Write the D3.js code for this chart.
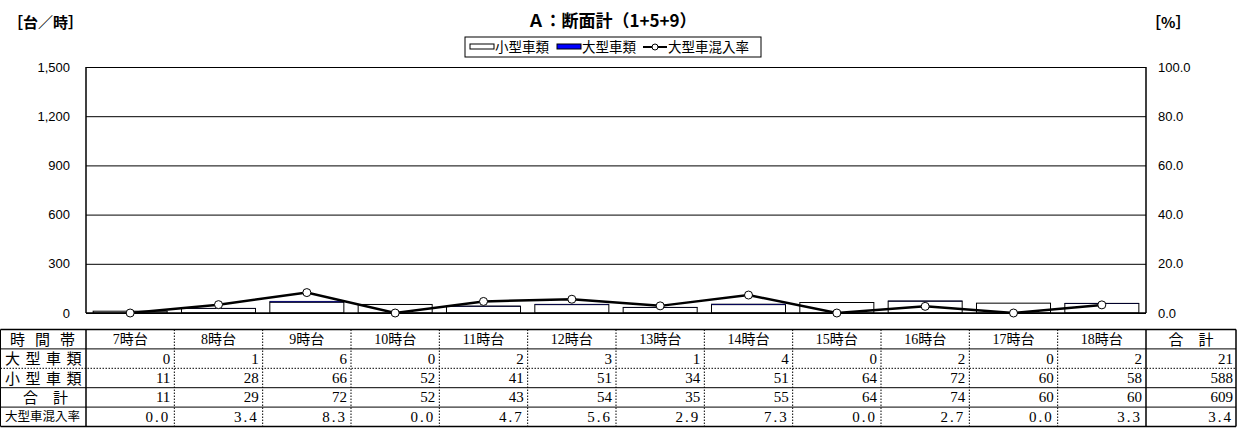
<!DOCTYPE html>
<html>
<head>
<meta charset="utf-8">
<script src="https://cdn.jsdelivr.net/npm/d3@7"></script>
<style>
  body { margin: 0; background: #fff; }
  svg { display: block; }
  .axis text { font-family: "Liberation Sans", Arial, sans-serif; font-size: 13px; fill: #000; }
  .cell { font-family: "Liberation Serif", "Noto Sans CJK JP", serif; fill: #000; }
  .jp { font-family: "Noto Sans CJK JP", sans-serif; fill: #000; }
</style>
</head>
<body>
<div id="chart"></div>
<script>
// data
var hours = ["7時台", "8時台", "9時台", "10時台", "11時台", "12時台", "13時台", "14時台", "15時台", "16時台", "17時台", "18時台"];
var largeVehicles = [0, 1, 6, 0, 2, 3, 1, 4, 0, 2, 0, 2];
var smallVehicles = [11, 28, 66, 52, 41, 51, 34, 51, 64, 72, 60, 58];
var totals = [11, 29, 72, 52, 43, 54, 35, 55, 64, 74, 60, 60];
var mixRates = [0.0, 3.4, 8.3, 0.0, 4.7, 5.6, 2.9, 7.3, 0.0, 2.7, 0.0, 3.3];
var grandTotals = [21, 588, 609, 3.4];   // 大型, 小型, 合計, 混入率
var leftTicks = [0, 300, 600, 900, 1200, 1500];
var rightTicks = [0, 20, 40, 60, 80, 100];
var rowLabels = ["時間帯", "大型車類", "小型車類", "合　計", "大型車混入率"];

var w = 1239, h = 439;
var plotLeft = 86, plotRight = 1146, plotTop = 67, plotBottom = 313;

var svg = d3.select("#chart").append("svg")
    .attr("width", w)
    .attr("height", h);

var xScale = d3.scaleBand()
    .domain(hours)
    .range([plotLeft, plotRight])
    .paddingInner(0.162)
    .paddingOuter(0.081);

var colScale = d3.scaleBand()
    .domain(hours)
    .range([plotLeft, plotRight])
    .padding(0);

var yScale = d3.scaleLinear().domain([0, 1500]).range([plotBottom, plotTop]);
var rScale = d3.scaleLinear().domain([0, 100]).range([plotBottom, plotTop]);

// unit labels and title
svg.append("text").attr("class", "jp")
    .attr("x", 8).attr("y", 28)
    .style("font-size", "15px").style("font-weight", "bold")
    .text("［台／時］");
svg.append("text").attr("class", "jp")
    .attr("x", 1146).attr("y", 28)
    .style("font-size", "15px").style("font-weight", "bold")
    .text("［%］");
svg.append("text").attr("class", "jp")
    .attr("x", 612).attr("y", 27)
    .attr("text-anchor", "middle")
    .style("font-size", "17px").style("font-weight", "bold")
    .text("Ａ：断面計（1+5+9）");

// left axis with grid
var yAxis = d3.axisLeft(yScale)
    .tickValues(leftTicks)
    .tickSize(-(plotRight - plotLeft))
    .tickPadding(16)
    .tickFormat(d3.format(","));
var gy = svg.append("g").attr("class", "axis")
    .attr("transform", "translate(" + plotLeft + ",0)")
    .call(yAxis);
gy.selectAll(".tick line").attr("stroke", "#000").attr("stroke-width", 1);
gy.select(".domain").remove();

var rAxis = d3.axisRight(rScale)
    .tickValues(rightTicks)
    .tickSize(0)
    .tickPadding(12)
    .tickFormat(d3.format(".1f"));
var gr = svg.append("g").attr("class", "axis")
    .attr("transform", "translate(" + plotRight + ",0)")
    .call(rAxis);
gr.select(".domain").remove();

// plot side borders
svg.append("line").attr("x1", plotLeft).attr("x2", plotLeft).attr("y1", plotTop).attr("y2", plotBottom)
    .attr("stroke", "#000").attr("stroke-width", 1.5);
svg.append("line").attr("x1", plotRight).attr("x2", plotRight).attr("y1", plotTop).attr("y2", plotBottom)
    .attr("stroke", "#000").attr("stroke-width", 1.5);

// stacked bars: small at bottom, large on top
svg.selectAll(".small").data(smallVehicles).enter().append("rect")
    .attr("class", "small")
    .attr("x", function(d, i) { return xScale(hours[i]); })
    .attr("y", function(d) { return yScale(d); })
    .attr("width", xScale.bandwidth())
    .attr("height", function(d) { return plotBottom - yScale(d); })
    .attr("fill", "#fff").attr("stroke", "#000").attr("stroke-width", 1);

svg.selectAll(".large").data(largeVehicles).enter().append("rect")
    .attr("class", "large")
    .attr("x", function(d, i) { return xScale(hours[i]); })
    .attr("y", function(d, i) { return yScale(smallVehicles[i] + d); })
    .attr("width", xScale.bandwidth())
    .attr("height", function(d) { return yScale(0) - yScale(d); })
    .attr("fill", "#0000ff").attr("stroke", "#000").attr("stroke-width", 0.5);

// baseline
svg.append("line").attr("x1", plotLeft).attr("x2", plotRight).attr("y1", plotBottom).attr("y2", plotBottom)
    .attr("stroke", "#000").attr("stroke-width", 1.5);

// mix rate line
var line = d3.line()
    .x(function(d, i) { return xScale(hours[i]) + xScale.bandwidth() / 2; })
    .y(function(d) { return rScale(d); });
svg.append("path").datum(mixRates)
    .attr("d", line)
    .attr("fill", "none").attr("stroke", "#000").attr("stroke-width", 2.5);
svg.selectAll(".dot").data(mixRates).enter().append("circle")
    .attr("class", "dot")
    .attr("cx", function(d, i) { return xScale(hours[i]) + xScale.bandwidth() / 2; })
    .attr("cy", function(d) { return rScale(d); })
    .attr("r", 4)
    .attr("fill", "#fff").attr("stroke", "#000").attr("stroke-width", 1);

// legend
var lg = svg.append("g").attr("transform", "translate(465,37)");
lg.append("rect").attr("x", 0).attr("y", 0).attr("width", 296).attr("height", 20)
    .attr("fill", "#fff").attr("stroke", "#000").attr("stroke-width", 1);
lg.append("rect").attr("x", 5).attr("y", 7).attr("width", 24).attr("height", 5)
    .attr("fill", "#fff").attr("stroke", "#000").attr("stroke-width", 1);
lg.append("text").attr("class", "jp").attr("x", 30).attr("y", 15).style("font-size", "13.5px").text("小型車類");
lg.append("rect").attr("x", 92).attr("y", 7).attr("width", 24).attr("height", 5)
    .attr("fill", "#0000ff").attr("stroke", "#000").attr("stroke-width", 1);
lg.append("text").attr("class", "jp").attr("x", 117).attr("y", 15).style("font-size", "13.5px").text("大型車類");
lg.append("line").attr("x1", 178).attr("x2", 202).attr("y1", 10).attr("y2", 10)
    .attr("stroke", "#000").attr("stroke-width", 2);
lg.append("circle").attr("cx", 190).attr("cy", 10).attr("r", 3)
    .attr("fill", "#fff").attr("stroke", "#000").attr("stroke-width", 1);
lg.append("text").attr("class", "jp").attr("x", 203).attr("y", 15).style("font-size", "13.5px").text("大型車混入率");

// table
var rowTop = 329.5, rowH = 19.4;
var tableLeft = 0.5, tableRight = 1236;
var rowsY = d3.range(6).map(function(i) { return rowTop + i * rowH; });

var tg = svg.append("g");
// horizontal lines
rowsY.forEach(function(y, i) {
    tg.append("line").attr("x1", tableLeft).attr("x2", tableRight).attr("y1", y).attr("y2", y)
        .attr("stroke", "#000")
        .attr("stroke-width", (i == 0 || i == 5) ? 1.5 : 1)
        .attr("stroke-dasharray", i == 2 ? "1.5,1.5" : null);
});
// vertical lines
tg.append("line").attr("x1", tableLeft).attr("x2", tableLeft).attr("y1", rowTop).attr("y2", rowsY[5])
    .attr("stroke", "#000").attr("stroke-width", 1);
tg.append("line").attr("x1", plotLeft).attr("x2", plotLeft).attr("y1", rowTop).attr("y2", rowsY[5])
    .attr("stroke", "#000").attr("stroke-width", 1.5);
hours.slice(1).forEach(function(hr) {
    var x = colScale(hr);
    tg.append("line").attr("x1", x).attr("x2", x).attr("y1", rowTop).attr("y2", rowsY[5])
        .attr("stroke", "#000").attr("stroke-width", 1).attr("stroke-dasharray", "1.5,1.5");
});
tg.append("line").attr("x1", plotRight).attr("x2", plotRight).attr("y1", rowTop).attr("y2", rowsY[5])
    .attr("stroke", "#000").attr("stroke-width", 1.5);
tg.append("line").attr("x1", tableRight).attr("x2", tableRight).attr("y1", rowTop).attr("y2", rowsY[5])
    .attr("stroke", "#000").attr("stroke-width", 1.5);

// row labels (spread across the first column)
var labelX = [10, 5, 5, 23, 5];
var labelSpacing = [10, 5.5, 5.5, 0, 0];
rowLabels.forEach(function(lab, i) {
    tg.append("text").attr("class", "jp")
        .attr("x", labelX[i]).attr("y", rowsY[i] + rowH / 2 + (i == 4 ? 4.5 : 5.5))
        .style("font-size", i == 4 ? "12.5px" : "15px")
        .style("letter-spacing", labelSpacing[i] + "px")
        .text(lab);
});

// header cells
hours.forEach(function(hr) {
    tg.append("text").attr("class", "cell")
        .attr("x", colScale(hr) + colScale.bandwidth() / 2).attr("y", rowsY[0] + rowH / 2 + 5)
        .attr("text-anchor", "middle")
        .style("font-size", "14px")
        .text(hr);
});
tg.append("text").attr("class", "jp")
    .attr("x", (plotRight + tableRight) / 2).attr("y", rowsY[0] + rowH / 2 + 5.5)
    .attr("text-anchor", "middle")
    .style("font-size", "15px")
    .text("合　計");

// value rows
var valueRows = [largeVehicles, smallVehicles, totals, mixRates];
valueRows.forEach(function(vals, r) {
    var fmt = r == 3 ? function(v) { return v.toFixed(1); } : function(v) { return String(v); };
    vals.forEach(function(v, i) {
        tg.append("text").attr("class", "cell")
            .attr("x", colScale(hours[i]) + colScale.bandwidth() - 4)
            .attr("y", rowsY[r + 1] + rowH / 2 + 5)
            .attr("text-anchor", "end")
            .style("font-size", "15px")
            .style("letter-spacing", r == 3 ? "2px" : null)
            .text(fmt(v));
    });
    tg.append("text").attr("class", "cell")
        .attr("x", tableRight - 3)
        .attr("y", rowsY[r + 1] + rowH / 2 + 5)
        .attr("text-anchor", "end")
        .style("font-size", "15px")
        .style("letter-spacing", r == 3 ? "2px" : null)
        .text(fmt(grandTotals[r]));
});
</script>
</body>
</html>
